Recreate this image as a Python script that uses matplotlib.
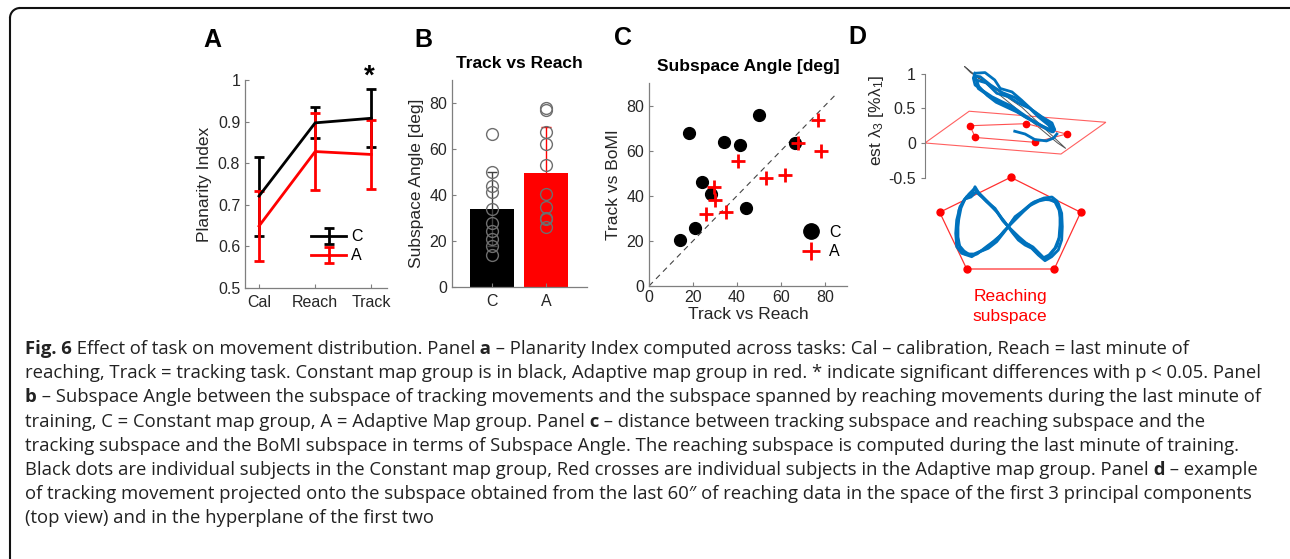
import numpy as np
import matplotlib.pyplot as plt
from matplotlib.patches import Polygon, Arc
from matplotlib.lines import Line2D

plt.rcParams['font.family'] = ['Liberation Sans', 'DejaVu Sans']
plt.rcParams['axes.unicode_minus'] = False
plt.rcParams['mathtext.fontset'] = 'custom'
plt.rcParams['mathtext.rm'] = 'Liberation Sans'
plt.rcParams['mathtext.it'] = 'Liberation Sans'

W, H = 1290, 559

# ---------------- data ----------------
# panel A - planarity index
tasks = ['Cal', 'Reach', 'Track']
pi_c = [0.721, 0.897, 0.908]
pi_c_err = [0.095, 0.037, 0.070]
pi_a = [0.649, 0.828, 0.821]
pi_a_err = [0.085, 0.092, 0.083]

# panel B / C - subspace angles per subject
groups = ['C', 'A']
reach_c = [14, 18, 21, 24.3, 28, 34, 41.2, 44, 50, 66.5]
bomi_c = [20.2, 67.8, 25.8, 46.3, 40.6, 64.0, 62.5, 34.5, 76.0, 63.3]
reach_a = [26, 29.5, 30, 35, 40.5, 53, 62, 67.5, 77, 78]
bomi_a = [32.0, 43.8, 38.2, 32.6, 55.3, 47.9, 49.0, 63.3, 73.6, 59.7]
bar_mean = [34.0, 49.6]
bar_err = [16.0, 19.8]
diag = [0, 85]

# panel D - example trajectory (3D side view, est lambda_3 on y)
plane_u = [0.0, 0.64, 2.62, 1.97]
plane_v = [0.0, 0.46, 0.30, -0.16]
slab_u = [0.57, 0.66, 1.40, 2.04, 1.92, 1.20]
slab_v = [1.11, 1.02, 0.52, -0.08, 0.00, 0.60]
targ_u = [0.65, 1.47, 2.05, 1.59, 0.73, 0.65]
targ_v = [0.25, 0.28, 0.13, 0.01, 0.08, 0.25]
side1_u = [0.725, 0.87, 1.01, 1.09, 1.26, 1.40, 1.55, 1.69, 1.84, 1.88, 1.84, 1.69, 1.55, 1.40, 1.26, 1.11, 0.97, 0.82, 0.725, 0.70, 0.725]
side1_v = [1.01, 1.02, 0.913, 0.79, 0.74, 0.62, 0.48, 0.38, 0.29, 0.19, 0.16, 0.24, 0.33, 0.43, 0.53, 0.60, 0.67, 0.77, 0.84, 0.94, 1.01]
side2_u = [0.75, 0.89, 1.04, 1.21, 1.35, 1.52, 1.64, 1.79, 1.86, 1.76, 1.59, 1.45, 1.30, 1.16, 1.01, 0.87, 0.77, 0.75]
side2_v = [0.91, 0.87, 0.72, 0.67, 0.58, 0.50, 0.38, 0.26, 0.16, 0.21, 0.31, 0.38, 0.48, 0.55, 0.62, 0.72, 0.79, 0.91]
side3_u = [0.72, 0.80, 0.95, 1.12, 1.30, 1.46, 1.60, 1.75, 1.87, 1.80, 1.62, 1.48, 1.33, 1.18, 1.03, 0.90, 0.78, 0.72]
side3_v = [0.97, 0.96, 0.84, 0.73, 0.66, 0.55, 0.44, 0.33, 0.21, 0.20, 0.28, 0.36, 0.45, 0.52, 0.59, 0.69, 0.82, 0.97]
tail_u = [1.30, 1.45, 1.59, 1.76, 1.86, 1.91]
tail_v = [0.17, 0.13, 0.05, 0.03, 0.07, 0.13]

# panel D - top view in reaching subspace
pent_u = [8.57, 15.57, 12.93, 4.17, 1.47, 8.57]
pent_v = [10.27, 6.77, 1.10, 1.10, 6.77, 10.27]
eight1_u = [8.33, 7.67, 7.00, 6.17, 5.50, 5.00, 4.67, 4.17, 3.50, 3.17, 3.07, 3.17, 3.67, 4.67, 5.50, 6.33, 7.17, 7.83,
            8.33, 9.00, 9.67, 10.67, 11.67, 12.67, 13.33, 13.67, 13.73, 13.67, 13.33, 12.67, 12.00, 11.33, 10.67, 10.00, 9.33, 8.67, 8.33]
eight1_v = [5.33, 6.17, 7.17, 7.83, 8.50, 9.33, 8.50, 8.33, 7.33, 6.00, 4.67, 3.33, 2.67, 2.33, 2.83, 3.17, 3.83, 4.67,
            5.33, 6.33, 6.83, 7.67, 8.07, 8.00, 7.67, 6.67, 5.33, 4.00, 3.00, 2.33, 1.93, 2.50, 3.17, 3.50, 4.00, 4.83, 5.33]
eight2_u = [8.33, 7.5, 6.8, 6.0, 5.3, 4.9, 4.4, 3.9, 3.4, 3.3, 3.3, 3.5, 4.0, 4.9, 5.8, 6.6, 7.4, 7.9,
            8.33, 9.1, 9.9, 10.9, 11.9, 12.7, 13.2, 13.5, 13.5, 13.4, 13.0, 12.4, 11.8, 11.1, 10.4, 9.6, 9.0, 8.33]
eight2_v = [5.33, 6.4, 7.3, 8.1, 8.8, 9.1, 8.6, 8.0, 7.0, 5.6, 4.3, 3.2, 2.6, 2.6, 3.0, 3.6, 4.3, 4.9,
            5.33, 6.1, 6.9, 7.8, 8.2, 8.3, 7.9, 6.9, 5.5, 4.2, 3.2, 2.5, 2.2, 2.8, 3.5, 3.9, 4.5, 5.33]
eight3_u = [8.33, 7.8, 7.2, 6.4, 5.7, 5.1, 4.6, 4.0, 3.6, 3.4, 3.2, 3.3, 3.9, 4.5, 5.2, 6.1, 6.9, 7.7,
            8.33, 8.8, 9.5, 10.4, 11.4, 12.3, 13.0, 13.4, 13.6, 13.5, 13.2, 12.6, 12.0, 11.5, 10.8, 10.1, 9.4, 8.33]
eight3_v = [5.33, 5.9, 6.8, 7.6, 8.3, 8.8, 8.3, 8.1, 7.2, 6.2, 4.9, 3.6, 2.9, 2.5, 2.6, 3.3, 3.9, 4.6,
            5.33, 6.0, 6.6, 7.4, 7.9, 8.1, 7.8, 7.0, 5.9, 4.5, 3.4, 2.6, 2.1, 2.6, 3.3, 3.7, 4.3, 5.33]

BLUE = '#0072BD'
GRAY = '#7f7f7f'
TXT = '#262626'


def px_axes(left, top, right, bottom):
    return fig.add_axes([left / W, 1 - bottom / H, (right - left) / W, (bottom - top) / H])


def matlab_style(ax, direction='in'):
    for s in ['top', 'right']:
        ax.spines[s].set_visible(False)
    for s in ['left', 'bottom']:
        ax.spines[s].set_color(GRAY)
        ax.spines[s].set_linewidth(0.9)
    ax.tick_params(direction=direction, length=3, color=GRAY, labelcolor=TXT, labelsize=11.5, width=0.8)
    ax.tick_params(axis='x', pad=5)


fig = plt.figure(figsize=(W / 100, H / 100), dpi=100)

# frame: top and left edges with a rounded corner, the rest runs off the page
fk = dict(color='#111111', lw=1.5, transform=fig.transFigure)
fig.add_artist(Line2D([20 / W, 1.0], [1 - 8 / H, 1 - 8 / H], **fk))
fig.add_artist(Line2D([10 / W, 10 / W], [1 - 18 / H, 0.0], **fk))
fig.add_artist(Arc((20 / W, 1 - 18 / H), 20 / W, 20 / H, theta1=90, theta2=180,
                   color='#111111', lw=1.5, transform=fig.transFigure))

# ---------------- panel A ----------------
axA = px_axes(245, 80, 387, 288)
xs = np.arange(1, 4)
axA.errorbar(xs, pi_c, yerr=pi_c_err, color='black', lw=2, elinewidth=2, capsize=3.5, capthick=2, label='C')
axA.errorbar(xs, pi_a, yerr=pi_a_err, color='red', lw=2, elinewidth=2, capsize=3.5, capthick=2, label='A')
axA.set_xlim(0.75, 3.28)
axA.set_ylim(0.5, 1.0)
axA.set_xticks(xs)
axA.set_xticklabels(tasks)
axA.set_yticks([0.5, 0.6, 0.7, 0.8, 0.9, 1.0])
axA.set_yticklabels(['0.5', '0.6', '0.7', '0.8', '0.9', '1'])
axA.set_ylabel('Planarity Index', fontsize=12.5, color=TXT, labelpad=4)
matlab_style(axA)
axA.text(2.97, 0.978, '*', ha='center', va='bottom', fontsize=20, fontweight='bold', clip_on=False)
axA.legend(loc='lower right', bbox_to_anchor=(0.93, 0.05), frameon=False, fontsize=11.5,
           handlelength=2.2, handletextpad=0.3, labelspacing=0.25)

# ---------------- panel B ----------------
axB = px_axes(452, 80, 587, 287)
axB.bar([1, 2], bar_mean, width=0.82, color=['black', 'red'])
axB.errorbar(1, bar_mean[0], yerr=bar_err[0], color='#404040', lw=1, capsize=3.5)
axB.errorbar(2, bar_mean[1], yerr=bar_err[1], color='red', lw=1, capsize=3.5)
axB.plot(np.ones(len(reach_c)), reach_c, 'o', mfc='none', mec='#6e6e6e', ms=8.5, mew=1)
axB.plot(np.full(len(reach_a), 2), reach_a, 'o', mfc='none', mec='#6e6e6e', ms=8.5, mew=1)
axB.set_xlim(0.26, 2.76)
axB.set_ylim(0, 90)
axB.set_xticks([1, 2])
axB.set_xticklabels(groups)
axB.set_yticks([0, 20, 40, 60, 80])
axB.set_ylabel('Subspace Angle [deg]', fontsize=12.5, color=TXT, labelpad=4)
axB.set_title('Track vs Reach', fontsize=12.5, fontweight='bold', pad=9)
matlab_style(axB)

# ---------------- panel C ----------------
axC = px_axes(649, 83, 847, 286)
axC.plot(diag, diag, '--', color='#444444', lw=0.8, dashes=(5, 4))
axC.plot(reach_c, bomi_c, 'o', color='black', ms=8.5, ls='none', label='C')
axC.plot(reach_a, bomi_a, '+', color='red', ms=10, mew=2, ls='none', label='A')
axC.set_xlim(0, 90)
axC.set_ylim(0, 90)
axC.set_xticks([0, 20, 40, 60, 80])
axC.set_yticks([0, 20, 40, 60, 80])
axC.set_xlabel('Track vs Reach', fontsize=12.5, color=TXT, labelpad=1)
axC.set_ylabel('Track vs BoMI', fontsize=12.5, color=TXT, labelpad=4)
axC.set_title('Subspace Angle [deg]', fontsize=12.5, fontweight='bold', pad=9)
matlab_style(axC)
axC.tick_params(axis='x', pad=3)
axC.legend(loc='lower right', bbox_to_anchor=(1.04, 0.06), frameon=False, fontsize=11.5,
           handlelength=1.2, handletextpad=0.5, labelspacing=0.3, markerscale=1.3)

# ---------------- panel D ----------------
axD = px_axes(925, 63.6, 1110, 177.5)
axD.add_patch(Polygon(np.column_stack([plane_u, plane_v]), closed=True, fill=False, ec='#ff6060', lw=0.8))
axD.add_patch(Polygon(np.column_stack([slab_u, slab_v]), closed=True, fill=False, ec='#555555', lw=0.7))
axD.plot(targ_u, targ_v, '-', color='#ff5050', lw=0.8)
axD.plot(targ_u[:-1], targ_v[:-1], 'o', color='red', ms=4.5)
for su, sv in [(side1_u, side1_v), (side2_u, side2_v), (side3_u, side3_v), (tail_u, tail_v)]:
    axD.plot(su, sv, color=BLUE, lw=2)
axD.set_xlim(0, 2.68)
axD.set_ylim(-0.5, 1.15)
axD.set_yticks([-0.5, 0, 0.5, 1])
axD.set_yticklabels(['-0.5', '0', '0.5', '1'])
axD.set_xticks([])
for s in ['top', 'right', 'bottom']:
    axD.spines[s].set_visible(False)
axD.spines['left'].set_bounds(-0.5, 1)
axD.spines['left'].set_color(GRAY)
axD.tick_params(direction='out', length=3, color=GRAY, labelcolor=TXT, labelsize=11.5)
axD.set_ylabel('est λ$_3$ [%λ$_1$]', fontsize=12.5, color=TXT, labelpad=2)
axD.patch.set_visible(False)

axD2 = px_axes(925, 170, 1085, 280)
axD2.plot(pent_u, pent_v, '-', color='#ff3030', lw=0.9)
axD2.plot(pent_u[:-1], pent_v[:-1], 'o', color='red', ms=5)
for eu, ev in [(eight1_u, eight1_v), (eight2_u, eight2_v), (eight3_u, eight3_v)]:
    axD2.plot(eu, ev, color=BLUE, lw=2)
axD2.set_xlim(0, 16)
axD2.set_ylim(0, 11)
axD2.axis('off')
fig.text(1010 / W, 1 - 297 / H, 'Reaching', color='red', fontsize=12.5, ha='center', va='center')
fig.text(1010 / W, 1 - 317 / H, 'subspace', color='red', fontsize=12.5, ha='center', va='center')

# panel letters
for lab, x, y in [('A', 212, 40), ('B', 423, 40), ('C', 623, 38), ('D', 857, 37)]:
    fig.text(x / W, 1 - y / H, lab, fontsize=18, fontweight='bold', ha='center', va='center')

# ---------------- caption ----------------
cap_font = ['Open Sans', 'DejaVu Sans']
cap_size = 13.3
lines = [
    [('Fig. 6', 'bold'), (' Effect of task on movement distribution. Panel', 'normal'), (' a', 'bold'),
     (' – Planarity Index computed across tasks: Cal – calibration, Reach = last minute of', 'normal')],
    [('reaching, Track = tracking task. Constant map group is in black, Adaptive map group in red. * indicate significant differences with p < 0.05. Panel', 'normal')],
    [('b', 'bold'), (' – Subspace Angle between the subspace of tracking movements and the subspace spanned by reaching movements during the last minute of', 'normal')],
    [('training, C = Constant map group, A = Adaptive Map group. Panel', 'normal'), (' c', 'bold'),
     (' – distance between tracking subspace and reaching subspace and the', 'normal')],
    [('tracking subspace and the BoMI subspace in terms of Subspace Angle. The reaching subspace is computed during the last minute of training.', 'normal')],
    [('Black dots are individual subjects in the Constant map group, Red crosses are individual subjects in the Adaptive map group. Panel', 'normal'),
     (' d', 'bold'), (' – example', 'normal')],
    [('of tracking movement projected onto the subspace obtained from the last 60″ of reaching data in the space of the first 3 principal components', 'normal')],
    [('(top view) and in the hyperplane of the first two', 'normal')],
]
renderer = fig.canvas.get_renderer()
for i, segs in enumerate(lines):
    yb = 354 + 24.2 * i
    x = 25.0
    for s, w in segs:
        t = fig.text(x / W, 1 - yb / H, s, fontweight=w, family=cap_font,
                     fontsize=cap_size, color='#222222', va='baseline', ha='left')
        x += t.get_window_extent(renderer).width

fig.savefig('out.png', dpi=100)
